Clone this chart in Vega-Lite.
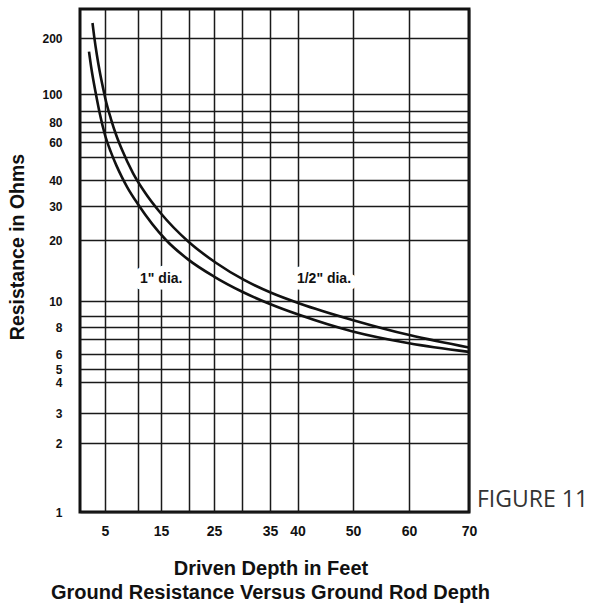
{
  "$schema": "https://vega.github.io/schema/vega-lite/v6.json",
  "width": 389,
  "height": 503,
  "autosize": {"type": "none"},
  "padding": {"left": 80, "top": 9, "right": 123, "bottom": 92},
  "background": "white",
  "config": {
    "view": {"stroke": "#111", "strokeWidth": 3},
    "font": "Liberation Sans"
  },
  "title": {
    "text": "Ground Resistance Versus Ground Rod Depth",
    "orient": "bottom",
    "anchor": "middle",
    "font": "Liberation Sans",
    "fontSize": 20,
    "fontWeight": "bold",
    "color": "#111",
    "offset": 5,
    "dx": -4
  },
  "datasets": {
    "curves": [
      {"rod": "half", "depth": 2.75, "ohms": 238},
      {"rod": "half", "depth": 3.05, "ohms": 204},
      {"rod": "half", "depth": 3.54, "ohms": 162},
      {"rod": "half", "depth": 4.05, "ohms": 132},
      {"rod": "half", "depth": 4.82, "ohms": 102},
      {"rod": "half", "depth": 5.04, "ohms": 97.4},
      {"rod": "half", "depth": 5.88, "ohms": 83},
      {"rod": "half", "depth": 6.72, "ohms": 66.3},
      {"rod": "half", "depth": 7.56, "ohms": 54.7},
      {"rod": "half", "depth": 9.24, "ohms": 42.8},
      {"rod": "half", "depth": 11.33, "ohms": 35.3},
      {"rod": "half", "depth": 14.95, "ohms": 27.5},
      {"rod": "half", "depth": 19.91, "ohms": 19.6},
      {"rod": "half", "depth": 25.4, "ohms": 15.4},
      {"rod": "half", "depth": 30.36, "ohms": 12.7},
      {"rod": "half", "depth": 35.32, "ohms": 10.95},
      {"rod": "half", "depth": 40.36, "ohms": 9.83},
      {"rod": "half", "depth": 50.36, "ohms": 8.56},
      {"rod": "half", "depth": 60.25, "ohms": 7.29},
      {"rod": "half", "depth": 70, "ohms": 6.41},
      {"rod": "one", "depth": 2.12, "ohms": 169},
      {"rod": "one", "depth": 2.55, "ohms": 137},
      {"rod": "one", "depth": 3.38, "ohms": 99.7},
      {"rod": "one", "depth": 4.05, "ohms": 87.9},
      {"rod": "one", "depth": 4.95, "ohms": 67.9},
      {"rod": "one", "depth": 5.88, "ohms": 53.2},
      {"rod": "one", "depth": 6.72, "ohms": 46.1},
      {"rod": "one", "depth": 7.56, "ohms": 41.15},
      {"rod": "one", "depth": 8.4, "ohms": 36.8},
      {"rod": "one", "depth": 10, "ohms": 30.6},
      {"rod": "one", "depth": 15.89, "ohms": 20},
      {"rod": "one", "depth": 19.88, "ohms": 16.0},
      {"rod": "one", "depth": 25, "ohms": 13.2},
      {"rod": "one", "depth": 29.95, "ohms": 11.14},
      {"rod": "one", "depth": 35, "ohms": 9.79},
      {"rod": "one", "depth": 40.14, "ohms": 9.09},
      {"rod": "one", "depth": 49.95, "ohms": 7.61},
      {"rod": "one", "depth": 60, "ohms": 6.7},
      {"rod": "one", "depth": 70, "ohms": 6.13}
    ],
    "labels": [
      {"depth": 15.05, "ohms": 12.84, "text": "1\" dia."},
      {"depth": 44.77, "ohms": 12.84, "text": "1/2\" dia."}
    ],
    "figure": [
      {"depth": 70, "ohms": 1.13, "text": "FIGURE 11"}
    ]
  },
  "layer": [
    {
      "data": {"name": "curves"},
      "mark": {"type": "line", "stroke": "#111", "strokeWidth": 2.6, "clip": true, "interpolate": "monotone"},
      "encoding": {
        "x": {
          "field": "depth",
          "type": "quantitative",
          "scale": {
            "domain": [0.5, 5, 10, 15, 20, 25, 30, 35, 40, 50, 60, 70],
            "range": [0, 25, 58, 81, 109, 134, 162, 190, 217.5, 273, 329, 389],
            "nice": false,
            "zero": false
          },
          "axis": {
            "values": [5, 10, 15, 20, 25, 30, 35, 40, 50, 60, 70],
            "tickCount": 40,
            "labelExpr": "(datum.value == 10 || datum.value == 20 || datum.value == 30) ? '' : datum.label",
            "labelOverlap": false,
            "labelFlush": false,
            "title": "Driven Depth in Feet",
            "titleFont": "Liberation Sans",
            "titleFontSize": 20,
            "titleFontWeight": "bold",
            "titleColor": "#111",
            "titleX": 190.5,
            "titleY": 56,
            "titleAlign": "center",
            "titleBaseline": "middle",
            "titleAnchor": null,
            "labelFont": "Liberation Sans",
            "labelFontSize": 14,
            "labelFontWeight": "bold",
            "labelColor": "#111",
            "labelPadding": 12,
            "ticks": false,
            "domain": false,
            "grid": true,
            "gridColor": "#1a1a1a",
            "gridWidth": 1.5,
            "gridOpacity": 1
          }
        },
        "y": {
          "field": "ohms",
          "type": "quantitative",
          "scale": {
            "type": "log",
            "domain": [1, 2, 3, 4, 5, 6, 7, 8, 9, 10, 20, 30, 40, 50, 60, 70, 80, 90, 100, 200, 280],
            "range": [503, 434, 404, 373, 360, 345, 330, 318, 307, 292, 231, 197, 171, 148, 133, 123, 113, 102, 85, 29, 0],
            "nice": false
          },
          "axis": {
            "values": [1, 2, 3, 4, 5, 6, 7, 8, 9, 10, 20, 30, 40, 50, 60, 70, 80, 90, 100, 200],
            "tickCount": 60,
            "labelExpr": "indexof([7, 9, 50, 70, 90], datum.value) >= 0 ? '' : format(datum.value, 'd')",
            "labelOverlap": false,
            "labelFlush": false,
            "title": "Resistance in Ohms",
            "titleFont": "Liberation Sans",
            "titleFontSize": 19.5,
            "titleFontWeight": "bold",
            "titleColor": "#111",
            "titleAngle": -90,
            "titleX": -62.5,
            "titleY": 237.5,
            "titleAlign": "center",
            "titleBaseline": "middle",
            "titleAnchor": null,
            "labelFont": "Liberation Sans",
            "labelFontSize": 12,
            "labelFontWeight": "bold",
            "labelColor": "#111",
            "labelPadding": 18,
            "ticks": false,
            "domain": false,
            "grid": true,
            "gridColor": "#1a1a1a",
            "gridWidth": 1.5,
            "gridOpacity": 1
          }
        },
        "detail": {"field": "rod", "type": "nominal"}
      }
    },
    {
      "data": {"name": "labels"},
      "mark": {"type": "text", "font": "Liberation Sans", "fontSize": 14, "fontWeight": "bold", "stroke": "white", "strokeWidth": 13, "strokeJoin": "round", "fill": "white"},
      "encoding": {
        "x": {"field": "depth", "type": "quantitative"},
        "y": {"field": "ohms", "type": "quantitative"},
        "text": {"field": "text"}
      }
    },
    {
      "data": {"name": "labels"},
      "mark": {"type": "text", "font": "Liberation Sans", "fontSize": 14, "fontWeight": "bold", "fill": "#111"},
      "encoding": {
        "x": {"field": "depth", "type": "quantitative"},
        "y": {"field": "ohms", "type": "quantitative"},
        "text": {"field": "text"}
      }
    },
    {
      "data": {"name": "figure"},
      "mark": {"type": "text", "font": "Open Sans", "fontSize": 23, "fill": "#333", "align": "left", "dx": 8, "clip": false},
      "encoding": {
        "x": {"field": "depth", "type": "quantitative"},
        "y": {"field": "ohms", "type": "quantitative"},
        "text": {"field": "text"}
      }
    }
  ]
}
